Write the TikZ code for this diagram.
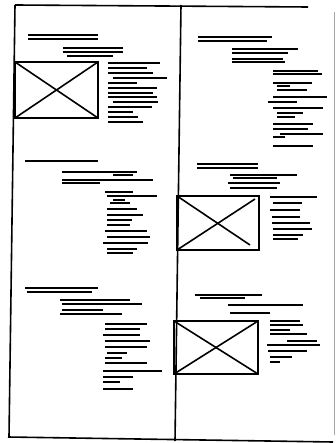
\documentclass[tikz,border=0pt]{standalone}

\tikzset{
  pagestroke/.style={line width=1.6pt},
  textbar/.style={line width=1.9pt},
  headbar/.style={line width=2.8pt},
  picbox/.style={line width=1.6pt}
}

\begin{document}
\begin{tikzpicture}[x=1pt,y=-1pt]

\useasboundingbox (0,0) rectangle (336,443);

% Page
\draw[pagestroke] (15,5) -- (308,7);
\draw[pagestroke] (15,5) -- (9,437);
\draw[pagestroke] (8,437) -- (333,442);
\draw[pagestroke] (181,5) -- (175,441);
\draw[line width=0.8pt,black!35] (334,12) -- (334,435);

% Left column, first article
\foreach \a/\b/\y in {28/98/35,28/98/39}
{
    \draw[line width=1.3pt] (\a,\y) -- (\b,\y);
}
\draw[headbar] (63,48) -- (123,48);
\foreach \a/\b/\y in {63/123/52,67/113/56}
{
    \draw[textbar] (\a,\y) -- (\b,\y);
}
\draw[picbox] (15,62) rectangle (98,118);
\draw[picbox] (15,62) -- (98,118);
\draw[picbox] (15,118) -- (98,62);
\foreach \a/\b/\y in {108/160/63,108/147/68,108/153/73,113/167/78,108/137/83,108/157/88,108/153/93,108/157/97,113/158/102,108/152/107,108/133/112,108/138/117,108/143/122}
{
    \draw[textbar] (\a,\y) -- (\b,\y);
}

% Left column, second article
\draw[headbar] (25,161) -- (82,161);
\draw[textbar] (82,161) -- (98,161);
\foreach \a/\b/\y in {62/137/172,113/133/175,62/100/183}
{
    \draw[textbar] (\a,\y) -- (\b,\y);
}
\draw[headbar] (62,180) -- (153,180);
\foreach \a/\b/\y in {105/133/192,107/157/196,113/125/200,110/130/203,107/137/209,107/143/215,107/132/220,107/130/225,105/147/231,107/150/237,103/148/243,107/137/249,107/133/253}
{
    \draw[textbar] (\a,\y) -- (\b,\y);
}

% Left column, third article
\draw[headbar] (25,288) -- (98,288);
\draw[line width=1.3pt] (27,292) -- (92,292);
\foreach \a/\b/\y in {60/130/300,62/142/304,62/103/310,60/122/314}
{
    \draw[textbar] (\a,\y) -- (\b,\y);
}
\foreach \a/\b/\y in {105/147/324,105/140/329,103/140/335,105/150/341,105/147/347,107/127/353,105/122/358,105/147/363,103/162/371,103/133/377,103/120/382,103/133/389}
{
    \draw[textbar] (\a,\y) -- (\b,\y);
}

% Right column, first article
\foreach \a/\b/\y in {198/272/37,198/267/41}
{
    \draw[line width=1.3pt] (\a,\y) -- (\b,\y);
}
\draw[headbar] (232,49) -- (298,49);
\foreach \a/\b/\y in {232/288/53,232/283/59,232/285/62}
{
    \draw[textbar] (\a,\y) -- (\b,\y);
}
\foreach \a/\b/\y in {273/318/71,273/322/74,273/312/83,277/290/86,277/307/90,273/327/97,268/297/102,273/323/108,277/303/113,277/295/117,273/313/124,273/308/129,280/323/134,273/285/137,273/313/146}
{
    \draw[textbar] (\a,\y) -- (\b,\y);
}

% Right column, second article
\foreach \a/\b/\y in {197/258/164,197/258/168}
{
    \draw[textbar] (\a,\y) -- (\b,\y);
}
\draw[headbar] (230,175) -- (297,175);
\foreach \a/\b/\y in {233/277/178,228/280/183,230/277/188}
{
    \draw[textbar] (\a,\y) -- (\b,\y);
}
\draw[picbox] (177,196) rectangle (259,250);
\draw[picbox] (177,196) -- (250,245);
\draw[picbox] (177,250) -- (255,199);
\foreach \a/\b/\y in {270/317/197,273/302/203,270/300/210,272/300/217,272/310/223,273/312/229,273/303/235,273/298/239}
{
    \draw[textbar] (\a,\y) -- (\b,\y);
}

% Right column, third article
\draw[headbar] (195,295) -- (225,295);
\draw[textbar] (225,295) -- (262,295);
\draw[textbar] (200,298) -- (245,298);
\draw[textbar] (228,305) -- (303,305);
\draw[headbar] (230,313) -- (258,313);
\draw[textbar] (258,313) -- (270,313);
\draw[picbox] (174,321) rectangle (258,374);
\draw[picbox] (174,321) -- (258,374);
\draw[picbox] (174,374) -- (258,321);
\foreach \a/\b/\y in {270/300/321,270/303/325,270/290/330,270/307/334,287/317/341,267/320/345,268/307/351,270/292/357,270/280/362}
{
    \draw[textbar] (\a,\y) -- (\b,\y);
}

\end{tikzpicture}
\end{document}
